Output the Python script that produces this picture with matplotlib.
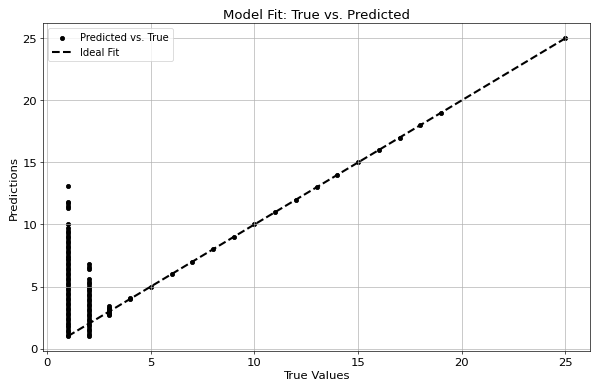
import matplotlib
matplotlib.use("Agg")
import matplotlib.pyplot as plt
import numpy as np

# predictions, grouped by true value
pred_1 = [13.1, 11.8, 11.7, 11.5, 11.3, 10.0, 9.7, 9.5, 9.3, 9.1, 8.9, 8.7, 8.5,
          8.3, 8.1, 7.9, 7.7, 7.5, 7.3, 7.1, 6.9, 6.7, 6.5, 6.3, 6.1, 5.9, 5.7,
          5.5, 5.3, 5.1, 4.9, 4.7, 4.5, 4.3, 4.1, 3.9, 3.7, 3.5, 3.3, 3.1, 2.9,
          2.7, 2.5, 2.3, 2.1, 1.9, 1.7, 1.5, 1.3, 1.1, 1.0]
pred_2 = [6.8, 6.6, 6.4, 5.6, 5.4, 5.2, 5.0, 4.8, 4.6, 4.4, 4.2, 4.0, 3.8, 3.6,
          3.4, 3.2, 3.0, 2.8, 2.6, 2.4, 2.2, 2.0, 1.8, 1.6, 1.4, 1.2, 1.0]
pred_3 = [3.4, 3.3, 3.2, 3.1, 3.0, 2.9, 2.8, 2.7]
pred_4 = [4.0, 4.1]
true_rest = [5, 6, 7, 8, 9, 10, 11, 12, 13, 14, 15, 16, 17, 18, 19, 25]
pred_rest = [5.0, 6.0, 7.0, 8.0, 9.0, 10.0, 11.0, 12.0, 13.0, 14.0, 15.0, 16.0,
             17.0, 18.0, 19.0, 25.0]

y_true = [1] * len(pred_1) + [2] * len(pred_2) + [3] * len(pred_3) + [4] * len(pred_4) + true_rest
y_pred = pred_1 + pred_2 + pred_3 + pred_4 + pred_rest

plt.rcParams['font.size'] = 14

dpi = 59.8
fig, ax = plt.subplots(figsize=(10, 6.5), dpi=dpi)
ax.scatter(y_true, y_pred, color="black", s=25, label="Predicted vs. True")
ax.plot([min(y_true), max(y_true)], [min(y_true), max(y_true)], "k--", lw=2.5, label="Ideal Fit")
ax.set_xlabel("True Values")
ax.set_ylabel("Predictions")
ax.set_title("Model Fit: True vs. Predicted", fontsize=16)
ax.legend(loc="upper left", fontsize=12)
ax.grid(True)
fig.subplots_adjust(left=0.072, right=0.987, top=0.938, bottom=0.095)
fig.savefig("out.png", dpi=dpi)
